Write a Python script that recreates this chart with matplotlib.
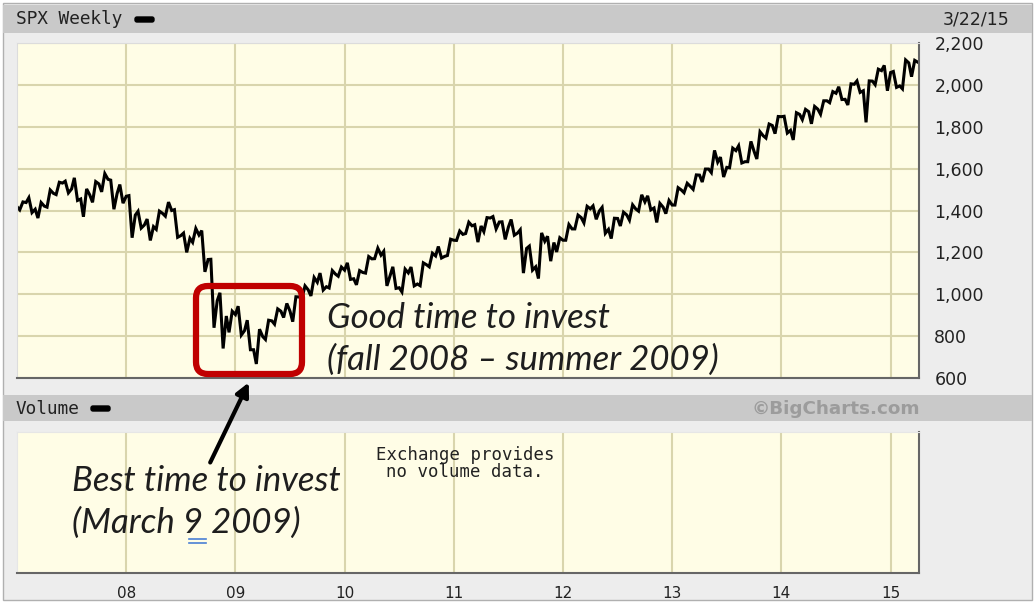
import numpy as np
import matplotlib
matplotlib.use('Agg')
import matplotlib.pyplot as plt
from matplotlib.patches import Rectangle, FancyBboxPatch
from matplotlib.transforms import IdentityTransform

W, H = 1036, 608

# SPX monthly bars, Jan 2007 .. Mar 2015
start_year = 2007
first_open = 1418
closes = [1438, 1406, 1421, 1482, 1531, 1503, 1455, 1474, 1527, 1549, 1481, 1468,
          1378, 1331, 1323, 1386, 1400, 1280, 1267, 1283, 1166, 969, 896, 903,
          826, 735, 798, 873, 919, 919, 987, 1021, 1057, 1036, 1096, 1115,
          1074, 1104, 1169, 1187, 1089, 1031, 1102, 1049, 1141, 1183, 1181, 1258,
          1286, 1327, 1326, 1364, 1345, 1321, 1292, 1219, 1131, 1253, 1247, 1258,
          1312, 1366, 1408, 1398, 1310, 1362, 1379, 1407, 1441, 1412, 1416, 1426,
          1498, 1515, 1569, 1598, 1631, 1606, 1686, 1633, 1682, 1757, 1806, 1848,
          1783, 1859, 1872, 1884, 1924, 1960, 1931, 2003, 1972, 2018, 2068, 2059,
          1995, 2105, 2108]
highs = [1441, 1461, 1438, 1498, 1535, 1540, 1556, 1503, 1538, 1576, 1545, 1524,
         1471, 1396, 1359, 1397, 1440, 1404, 1292, 1314, 1304, 1167, 1007, 919,
         943, 876, 833, 876, 930, 956, 988, 1040, 1080, 1101, 1113, 1130,
         1150, 1113, 1180, 1220, 1205, 1131, 1120, 1130, 1150, 1196, 1228, 1263,
         1302, 1344, 1332, 1366, 1371, 1346, 1357, 1308, 1230, 1293, 1277, 1270,
         1333, 1378, 1420, 1422, 1415, 1363, 1392, 1427, 1475, 1470, 1434, 1448,
         1509, 1530, 1570, 1598, 1687, 1655, 1698, 1709, 1730, 1776, 1813, 1849,
         1850, 1867, 1883, 1897, 1924, 1968, 1991, 2005, 2019, 2019, 2075, 2093,
         2064, 2119, 2117]
lows = [1403, 1390, 1364, 1416, 1476, 1484, 1448, 1370, 1439, 1489, 1406, 1435,
        1270, 1316, 1257, 1310, 1373, 1272, 1200, 1248, 1107, 840, 741, 818,
        805, 735, 667, 784, 857, 889, 869, 978, 992, 1020, 1030, 1086,
        1071, 1045, 1101, 1170, 1040, 1028, 1011, 1040, 1041, 1131, 1173, 1185,
        1257, 1290, 1249, 1299, 1312, 1262, 1282, 1101, 1115, 1075, 1158, 1202,
        1258, 1312, 1341, 1358, 1291, 1266, 1326, 1354, 1397, 1403, 1343, 1385,
        1426, 1485, 1501, 1536, 1581, 1560, 1604, 1627, 1633, 1646, 1746, 1767,
        1770, 1737, 1834, 1814, 1860, 1915, 1930, 1904, 1964, 1821, 2001, 1972,
        1988, 1981, 2039]

y_ticks = [600, 800, 1000, 1200, 1400, 1600, 1800, 2000, 2200]
y_labels = ['600', '800', '1,000', '1,200', '1,400', '1,600', '1,800', '2,000', '2,200']
x_ticks = [2008, 2009, 2010, 2011, 2012, 2013, 2014, 2015]
x_labels = ['08', '09', '10', '11', '12', '13', '14', '15']

# zigzag path through each month: open -> extreme -> extreme -> close
t, p = [start_year], [first_open]
prev = first_open
for i, (c, h, l) in enumerate(zip(closes, highs, lows)):
    t0 = start_year + i / 12
    seq = [l, h] if c >= prev else [h, l]
    t += [t0 + 0.3 / 12, t0 + 0.65 / 12, t0 + 1 / 12]
    p += seq + [c]
    prev = c

cream = '#fffde6'
grid_c = '#d9d5ad'


def fr(px, py):
    return px / W, 1 - py / H


fig = plt.figure(figsize=(W / 100, H / 100), dpi=100, facecolor='white')

# outer frame and header bars (behind the axes)
fig.patches.append(Rectangle(fr(3, 600), 1029 / W, 597 / H, transform=fig.transFigure,
                             facecolor='#ededed', edgecolor='#b0b0b0', lw=1, zorder=-3))
fig.patches.append(Rectangle(fr(3, 33), 1029 / W, 28 / H, transform=fig.transFigure,
                             facecolor='#c9c9c9', edgecolor='none', zorder=-2))
fig.patches.append(Rectangle(fr(3, 421), 1029 / W, 26 / H, transform=fig.transFigure,
                             facecolor='#c9c9c9', edgecolor='none', zorder=-2))

# main price panel
ax = fig.add_axes([17 / W, 1 - 378 / H, 902 / W, 335 / H])
ax.set_facecolor(cream)
ax.plot(t, p, color='black', lw=2.2, solid_joinstyle='miter')
ax.set_xlim(2007.0, 2015.26)
ax.set_ylim(600, 2200)
ax.set_xticks(x_ticks)
ax.set_xticklabels([])
ax.set_yticks(y_ticks)
ax.set_yticklabels(y_labels)
ax.yaxis.tick_right()
ax.tick_params(length=0, labelsize=12.5, pad=11, labelcolor='#222222')
ax.grid(True, color=grid_c, lw=1.5)
ax.set_axisbelow(True)
for s in ['top', 'left']:
    ax.spines[s].set_color('#dcdcdc')
for s in ['right', 'bottom']:
    ax.spines[s].set_color('#666666')
    ax.spines[s].set_linewidth(1.5)

# volume panel
axv = fig.add_axes([17 / W, 1 - 573 / H, 902 / W, 141 / H])
axv.set_facecolor(cream)
axv.set_xlim(2007.0, 2015.26)
axv.set_ylim(0, 1)
axv.set_xticks(x_ticks)
axv.set_xticklabels(x_labels)
axv.set_yticks([])
axv.tick_params(length=0, labelsize=11, pad=9, labelcolor='#222222')
axv.grid(True, axis='x', color=grid_c, lw=1.5)
axv.set_axisbelow(True)
for s in ['top', 'left']:
    axv.spines[s].set_color('#e6e6e6')
for s in ['right', 'bottom']:
    axv.spines[s].set_color('#666666')
    axv.spines[s].set_linewidth(1.5)
axv.text(465 / W, 1 - 446 / H, 'Exchange provides\nno volume data.',
         transform=fig.transFigure, ha='center', va='top', family='DejaVu Sans Mono',
         fontsize=12.5, linespacing=0.95, color='#222222')

# header texts
mono = 'DejaVu Sans Mono'
fig.text(*fr(16, 19), 'SPX Weekly', family=mono, fontsize=12.8, va='center', color='#222222')
fig.patches.append(FancyBboxPatch((135, H - 22), 19, 5, boxstyle='round,pad=0,rounding_size=2',
                                  transform=IdentityTransform(), color='black'))
fig.text(*fr(1009, 19), '3/22/15', fontsize=12.5, ha='right', va='center', color='#222222')
fig.text(*fr(16, 409), 'Volume', family=mono, fontsize=12.8, va='center', color='#222222')
fig.patches.append(FancyBboxPatch((91, H - 411), 19, 5, boxstyle='round,pad=0,rounding_size=2',
                                  transform=IdentityTransform(), color='black'))
fig.text(*fr(920, 409), '\u00a9BigCharts.com', fontsize=13.2, weight='bold', ha='right',
         va='center', color='#9c9c9c')

# annotations
fig.patches.append(FancyBboxPatch((196, H - 374), 106, 88, boxstyle='round,pad=0,rounding_size=12',
                                  transform=IdentityTransform(), facecolor='none',
                                  edgecolor='#c00000', lw=4.5, zorder=5))

note_font = dict(family='Lato', style='italic', weight='normal', fontsize=25, color='#1e1e1e')
fig.text(*fr(327, 318), 'Good time to invest', va='center', **note_font)
fig.text(*fr(327, 360), '(fall 2008 \u2013 summer 2009)', va='center', **note_font)
fig.text(*fr(72, 481), 'Best time to invest', va='center', **note_font)
fig.text(*fr(72, 523), '(March 9 2009)', va='center', **note_font)
for yy in (539, 543):
    fig.lines.append(plt.Line2D([189 / W, 206 / W], [1 - yy / H, 1 - yy / H],
                                transform=fig.transFigure, color='#4a7fd4', lw=1.2))

axv.annotate('', xy=(250, H - 380), xycoords='figure pixels',
             xytext=(209, H - 465), textcoords='figure pixels',
             arrowprops=dict(arrowstyle='-|>', color='black', lw=3, mutation_scale=20),
             annotation_clip=False)

fig.savefig('out.png', dpi=100, facecolor=fig.get_facecolor())
